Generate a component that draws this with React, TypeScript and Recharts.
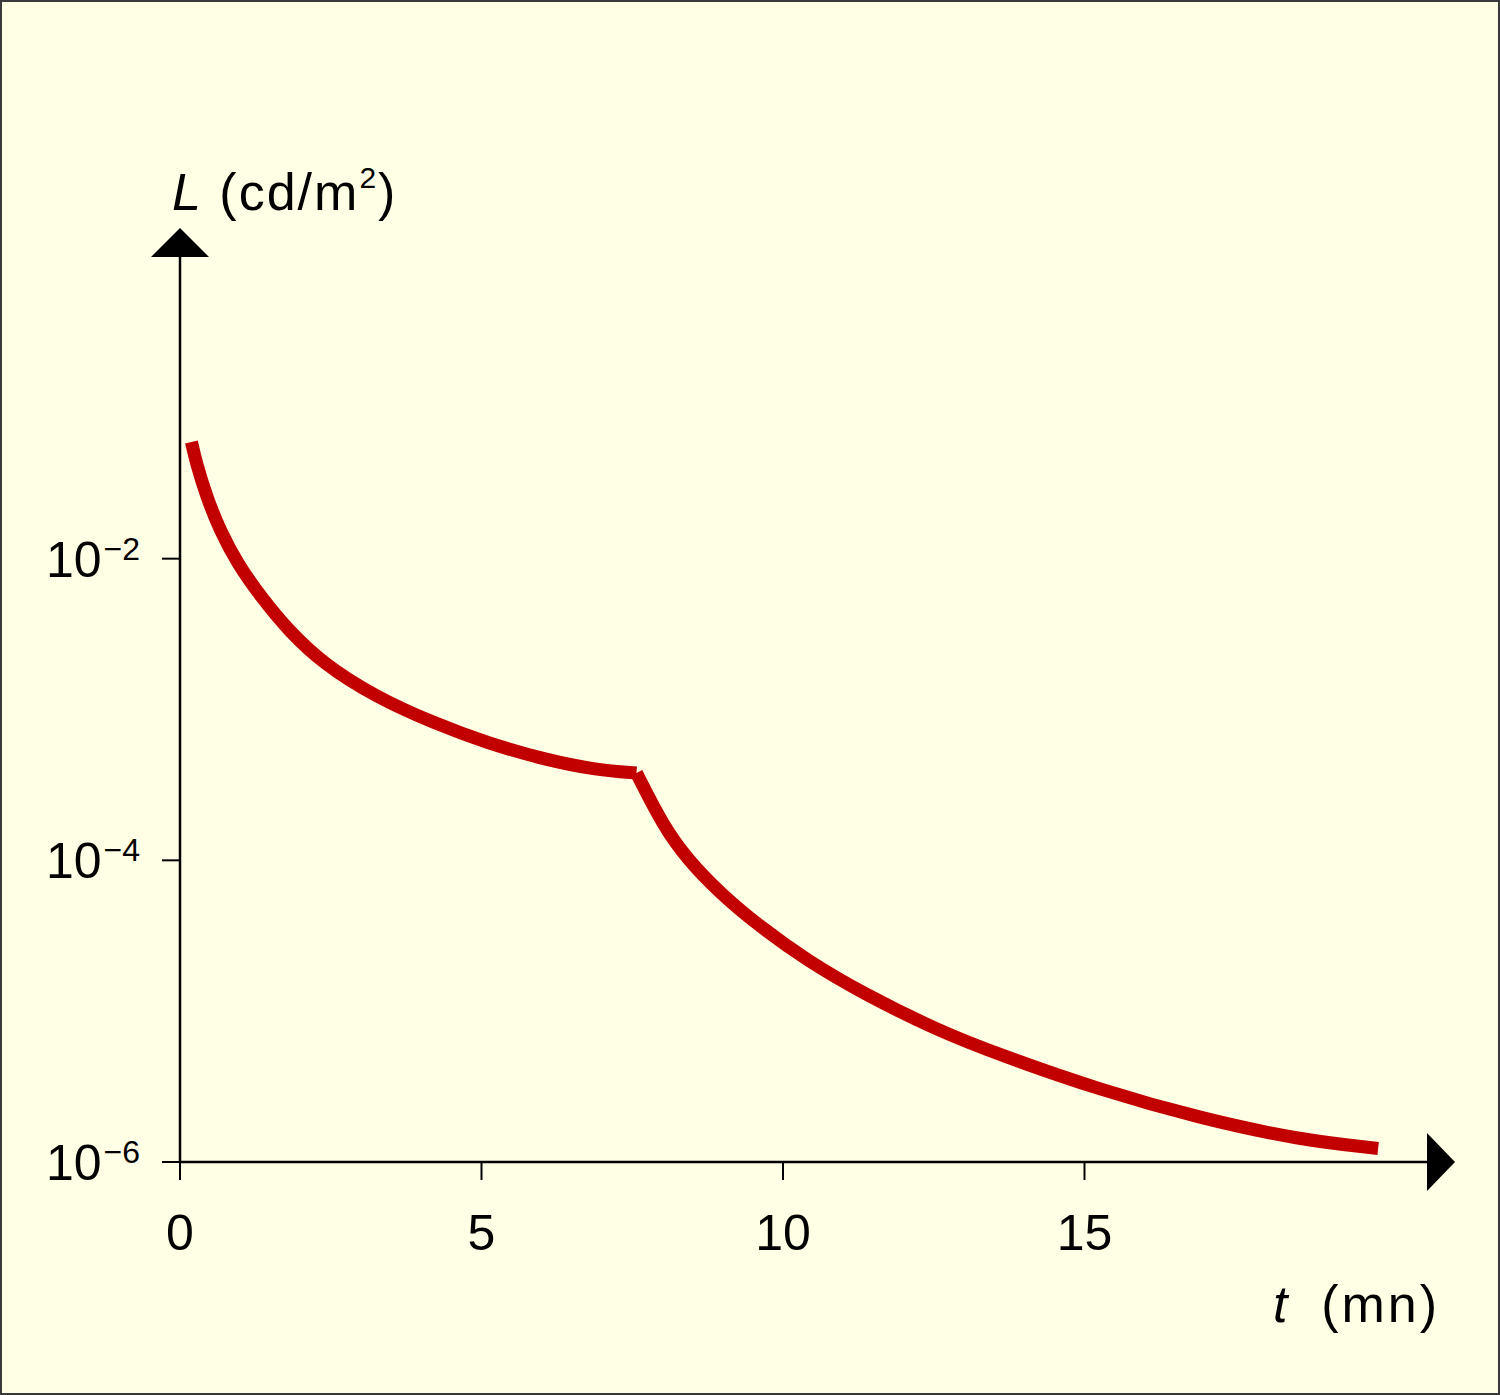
import { LineChart, Line, XAxis, YAxis, ReferenceDot } from "recharts";

// photopic branch (cones), t in minutes, L in cd/m2
const coneTime = [0.19, 0.27, 0.44, 0.66, 0.95, 1.34, 1.79, 2.37, 3.23, 4.2, 5.09, 6.08, 6.91, 7.57];
const coneLum = [5.94e-2, 4.29e-2, 2.58e-2, 1.55e-2, 9.31e-3, 5.6e-3, 3.37e-3, 2.02e-3, 1.22e-3, 8.15e-4, 6.0e-4, 4.62e-4, 3.97e-4, 3.79e-4];

// scotopic branch (rods)
const rodTime = [7.57, 8.02, 8.43, 8.96, 9.62, 10.39, 11.33, 12.55, 13.6, 15.26, 16.92, 18.57, 19.87];
const rodLum = [3.79e-4, 1.67e-4, 1.0e-4, 6.04e-5, 3.63e-5, 2.18e-5, 1.31e-5, 7.5e-6, 5.12e-6, 3.0e-6, 1.95e-6, 1.4e-6, 1.23e-6];

const xTicks = [0, 5, 10, 15];
const yTicks = [1e-6, 1e-4, 1e-2];
const yTickExp = ["6", "4", "2"];

const X_MAX = 20.68;
const Y_MIN = 1e-6;
const Y_MAX = 1;

const FONT = '"Liberation Sans", Arial, sans-serif';
const BG = "#FFFFE6";
const RED = "#C20000";

const coneData = coneTime.map((t, i) => ({ t, L: coneLum[i] }));
const rodData = rodTime.map((t, i) => ({ t, L: rodLum[i] }));

function XTick({ x, y, payload }: any) {
  return (
    <text x={x} y={y + 70} textAnchor="middle" fontSize={50} fontFamily={FONT} fill="#000">
      {payload.value}
    </text>
  );
}

function YTick({ x, y, payload, index }: any) {
  const i = yTicks.indexOf(payload.value);
  const exp = yTickExp[i >= 0 ? i : index];
  return (
    <text x={x} y={y + 18} textAnchor="end" fontSize={50} fontFamily={FONT} fill="#000">
      10
      <tspan fontSize={32} dy={-17} dx={2}>
        {"\u2212" + exp}
      </tspan>
    </text>
  );
}

const UpArrow = (p: any) => (
  <polygon points={`${p.cx - 29},${p.cy} ${p.cx + 29},${p.cy} ${p.cx},${p.cy - 29}`} fill="#000" />
);

const RightArrow = (p: any) => (
  <polygon points={`${p.cx},${p.cy - 29} ${p.cx},${p.cy + 29} ${p.cx + 28},${p.cy}`} fill="#000" />
);

export default function App() {
  return (
    <div style={{ position: "absolute", left: 0, top: 0, width: 1500, height: 1395, background: BG }}>
      <LineChart
        width={1500}
        height={1395}
        margin={{ top: 257, right: 73, bottom: 0, left: 0 }}
      >
        <XAxis
          dataKey="t"
          type="number"
          domain={[0, X_MAX]}
          ticks={xTicks}
          allowDataOverflow
          height={233}
          tickSize={18}
          tickMargin={0}
          axisLine={{ stroke: "#000", strokeWidth: 2.5 }}
          tickLine={{ stroke: "#000", strokeWidth: 2 }}
          tick={<XTick />}
        />
        <YAxis
          dataKey="L"
          scale="log"
          domain={[Y_MIN, Y_MAX]}
          ticks={yTicks}
          allowDataOverflow
          width={180}
          tickSize={18}
          tickMargin={22}
          axisLine={{ stroke: "#000", strokeWidth: 2.5 }}
          tickLine={{ stroke: "#000", strokeWidth: 2 }}
          tick={<YTick />}
        />
        <Line
          data={coneData}
          dataKey="L"
          type="basis"
          stroke={RED}
          strokeWidth={13}
          strokeLinecap="butt"
          dot={false}
          activeDot={false}
          isAnimationActive={false}
        />
        <Line
          data={rodData}
          dataKey="L"
          type="basis"
          stroke={RED}
          strokeWidth={13}
          strokeLinecap="butt"
          dot={false}
          activeDot={false}
          isAnimationActive={false}
        />
        <ReferenceDot x={0} y={Y_MAX} shape={UpArrow} ifOverflow="visible" />
        <ReferenceDot x={X_MAX} y={Y_MIN} shape={RightArrow} ifOverflow="visible" />
      </LineChart>

      <svg
        width={1500}
        height={1395}
        style={{ position: "absolute", left: 0, top: 0, pointerEvents: "none" }}
      >
        <text x={172} y={210} fontSize={52} fontFamily={FONT} fill="#000" letterSpacing={2}>
          <tspan fontStyle="italic">L</tspan>
          <tspan> (cd/m</tspan>
          <tspan fontSize={30} dy={-22}>2</tspan>
          <tspan dy={22}>)</tspan>
        </text>
        <text x={1273} y={1322} fontSize={52} fontFamily={FONT} fill="#000" fontStyle="italic">
          t
        </text>
        <text x={1440} y={1322} fontSize={52} fontFamily={FONT} fill="#000" textAnchor="end" letterSpacing={3}>
          (mn)
        </text>
      </svg>

      <div
        style={{
          position: "absolute",
          left: 0,
          top: 0,
          width: 1500,
          height: 1395,
          boxSizing: "border-box",
          border: "2px solid #3a3a3a",
          pointerEvents: "none",
        }}
      />
    </div>
  );
}
